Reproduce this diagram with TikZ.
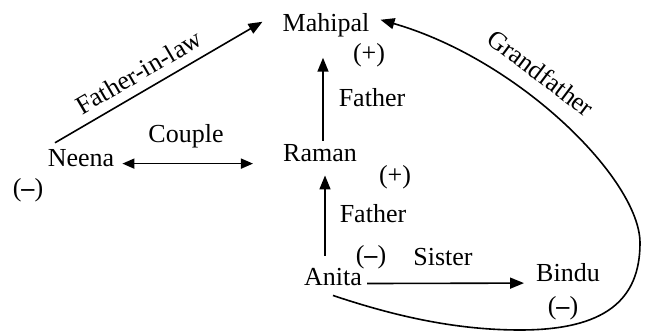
\documentclass[tikz,border=0pt]{standalone}
\usepackage{fontspec}
\setmainfont{Liberation Serif}
\usetikzlibrary{arrows.meta}
\begin{document}
\begin{tikzpicture}[x=1pt,y=-1pt,
  lbl/.style={font=\fontsize{26}{30}\selectfont, inner sep=0pt, anchor=base},
  arr/.style={line width=1.6pt, -{Triangle[length=14pt,width=11pt]}},
  darr/.style={line width=1.6pt, {Triangle[length=12pt,width=10pt]}-{Triangle[length=12pt,width=10pt]}}]
\useasboundingbox (0,0) rectangle (651,331);
% people
\node[lbl] (mahipal) at (326,32) {Mahipal};
\node[lbl] (raman) at (320,162) {Raman};
\node[lbl] (neena) at (81,167) {Neena};
\node[lbl] (anita) at (333,286) {Anita};
\node[lbl] (bindu) at (568,282) {Bindu};
% signs
\node[lbl, anchor=center] (smah) at (369,55) {(+)};
\node[lbl, anchor=center] (sram) at (395,177) {(+)};
\node[lbl, anchor=center] (sneena) at (28,190) {(\textbf{--})};
\node[lbl, anchor=center] (sanita) at (371,257) {(\textbf{--})};
\node[lbl, anchor=center] (sbindu) at (563,308) {(\textbf{--})};
% relation labels
\node[lbl] (f1) at (372,107) {Father};
\node[lbl] (f2) at (373,223) {Father};
\node[lbl] (couple) at (186,143) {Couple};
\node[lbl] (sister) at (443,266) {Sister};
\node[lbl, anchor=center, rotate=-37] (gf) at (541,73) {Grandfather};
% connectors
\draw[arr] ([xshift=3pt,yshift=4pt]raman.north) -- ([xshift=-3pt,yshift=-20pt]mahipal.south);
\draw[arr] ([xshift=-8pt,yshift=13pt]anita.north) -- ([xshift=5pt,yshift=-13pt]raman.south);
\draw[darr] ([xshift=8pt,yshift=-5pt]neena.east) -- ([xshift=-30pt,yshift=-10pt]raman.west);
\draw[arr] ([xshift=5pt,yshift=-6pt]anita.east) -- ([xshift=-12pt,yshift=-10pt]bindu.west);
\draw[arr] ([xshift=-26pt,yshift=7pt]neena.north) -- node[lbl, anchor=south, sloped, pos=0.45, yshift=9pt] (fil) {Father-in-law} ([xshift=-20pt,yshift=4pt]mahipal.west);
\draw[arr] ([yshift=-9pt]anita.south) .. controls (400,318) and (460,330) .. (520,330)
  .. controls (605,330) and (640,300) .. (640,243)
  .. controls (640,180) and (520,60) .. ([xshift=11pt,yshift=6pt]mahipal.east);
\end{tikzpicture}
\end{document}
